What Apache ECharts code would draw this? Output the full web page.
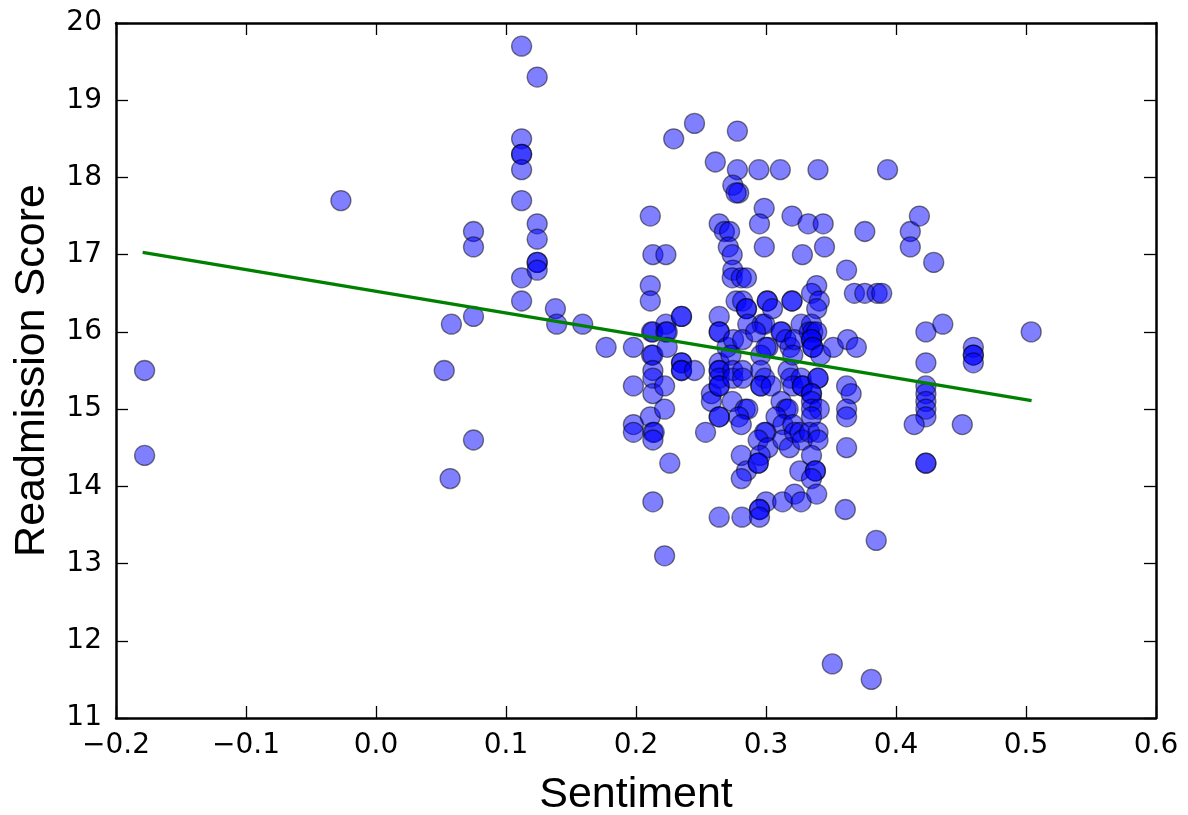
<!DOCTYPE html>
<html>
<head>
<meta charset="utf-8">
<script src="https://cdn.jsdelivr.net/npm/echarts@6/dist/echarts.min.js"></script>
<style>
html,body{margin:0;padding:0;background:#fff;}
#chart{width:1188px;height:815px;}
</style>
</head>
<body>
<div id="chart"></div>
<script>
// Sentiment vs Readmission Score points
const points = [
[-0.178,15.5],[-0.178,14.4],[-0.027,17.7],[0.0525,15.5],[0.058,16.1],[0.057,14.1],
[0.075,17.3],[0.075,17.1],[0.075,16.2],[0.075,14.6],
[0.112,19.7],[0.112,18.5],[0.112,18.3],[0.112,18.3],[0.112,18.1],[0.112,17.7],[0.112,16.7],[0.112,16.4],
[0.124,19.3],[0.124,17.4],[0.124,17.2],[0.124,16.9],[0.124,16.9],[0.124,16.8],
[0.138,16.3],[0.139,16.1],[0.159,16.1],[0.177,15.8],
[0.198,15.8],[0.198,15.3],[0.198,14.8],[0.198,14.7],
[0.211,17.5],[0.213,17.0],[0.211,16.6],[0.211,16.4],[0.212,16.0],[0.213,16.0],[0.212,15.7],[0.213,15.7],
[0.213,15.5],[0.213,15.4],[0.213,15.2],[0.211,14.9],[0.213,14.7],[0.214,14.7],[0.213,14.6],[0.213,13.8],
[0.223,17.0],[0.223,16.1],[0.223,16.0],[0.224,16.0],[0.224,15.8],[0.222,15.3],[0.222,15.0],[0.226,14.3],[0.222,13.1],
[0.229,18.5],
[0.235,16.2],[0.235,16.2],[0.235,15.6],[0.235,15.6],[0.235,15.5],[0.235,15.5],
[0.245,18.7],[0.245,15.5],
[0.258,15.2],[0.258,15.1],[0.2535,14.7],
[0.261,18.2],
[0.264,17.4],[0.264,16.2],[0.264,16.0],[0.264,16.0],[0.264,15.6],[0.264,15.5],[0.264,15.5],[0.264,15.4],
[0.264,15.3],[0.264,15.3],[0.264,14.9],[0.264,14.9],[0.264,13.6],
[0.268,17.3],[0.272,17.3],[0.271,17.1],[0.270,15.8],
[0.278,18.6],[0.278,18.1],[0.2745,17.9],[0.279,17.8],[0.277,17.8],[0.274,17.0],[0.2745,16.8],[0.274,16.7],
[0.277,16.4],[0.275,15.9],[0.273,15.7],[0.2745,15.5],[0.2745,15.4],[0.274,15.1],
[0.281,16.7],[0.285,16.7],[0.282,16.4],[0.285,16.3],[0.285,16.3],[0.286,16.1],[0.282,15.9],[0.282,15.5],
[0.282,15.4],[0.284,15.0],[0.286,15.0],[0.279,14.9],[0.281,14.8],[0.281,14.4],[0.285,14.2],[0.281,14.1],[0.2815,13.6],
[0.2945,18.1],[0.2986,17.6],[0.295,17.4],[0.2987,17.1],[0.301,16.4],[0.301,16.4],[0.297,16.1],[0.299,16.1],
[0.292,16.0],[0.3015,15.8],[0.296,15.7],[0.300,15.8],[0.296,15.5],[0.299,15.4],[0.296,15.3],[0.296,15.3],
[0.300,14.7],[0.299,14.7],[0.294,14.6],[0.3015,14.5],[0.2955,14.4],[0.294,14.3],[0.294,14.3],[0.300,13.8],
[0.295,13.7],[0.295,13.7],[0.295,13.6],
[0.311,18.1],[0.305,16.3],[0.312,16.0],[0.3115,16.0],[0.3154,15.9],[0.3185,15.8],[0.304,15.3],[0.317,15.5],
[0.319,15.4],[0.3116,15.1],[0.3154,15.0],[0.317,15.0],[0.3077,14.9],[0.313,14.8],[0.313,14.6],[0.318,14.5],[0.3128,13.8],
[0.320,17.5],[0.328,17.0],[0.320,16.4],[0.320,16.4],[0.327,16.1],[0.322,15.9],[0.3206,15.7],[0.327,15.4],
[0.3206,15.3],[0.328,15.3],[0.328,15.3],[0.3206,14.8],[0.322,14.7],[0.326,14.7],[0.328,14.6],[0.326,14.2],
[0.322,13.9],[0.327,13.8],
[0.340,18.1],[0.3324,17.4],[0.344,17.4],[0.345,17.1],[0.339,16.6],[0.335,16.5],[0.341,16.4],[0.339,16.3],
[0.335,16.1],[0.3333,16.0],[0.336,16.0],[0.339,16.0],[0.335,15.9],[0.335,15.9],[0.336,15.8],[0.336,15.8],
[0.342,15.7],[0.340,15.4],[0.340,15.4],[0.335,15.2],[0.335,15.2],[0.335,15.1],[0.335,15.0],[0.341,15.0],
[0.335,14.9],[0.3335,14.7],[0.340,14.7],[0.340,14.6],[0.335,14.4],[0.338,14.2],[0.338,14.2],[0.335,14.1],[0.339,13.9],
[0.3518,15.8],[0.351,11.7],[0.362,16.8],[0.368,16.5],[0.3628,15.9],[0.3695,15.8],[0.362,15.3],[0.3655,15.2],
[0.362,15.0],[0.362,14.9],[0.362,14.5],[0.361,13.7],[0.376,17.3],[0.376,16.5],[0.381,11.5],[0.3848,13.3],
[0.3855,16.5],[0.389,16.5],[0.3935,18.1],
[0.411,17.3],[0.411,17.1],[0.418,17.5],[0.429,16.9],[0.423,16.0],[0.436,16.1],[0.423,15.6],[0.423,15.3],
[0.423,15.2],[0.423,15.1],[0.423,15.0],[0.423,14.9],[0.423,14.3],[0.423,14.3],[0.414,14.8],[0.451,14.8],
[0.4595,15.8],[0.4595,15.7],[0.4595,15.7],[0.4595,15.6],[0.504,16.0]
];
// Fitted line endpoints
const fitLine = [[-0.1795,17.03],[0.5043,15.11]];
// Axis ranges / ticks
const xRange = {min:-0.2, max:0.6, interval:0.1};
const yRange = {min:11, max:20, interval:1};
const xTitle = 'Sentiment';
const yTitle = 'Readmission Score';

const chart = echarts.init(document.getElementById('chart'), null, {renderer:'canvas'});
const tickFont = {fontFamily:'DejaVu Sans', fontSize:28, color:'#000'};
const lineStyle = {color:'#000', width:2.5};
const tickStyle = {show:true, inside:true, length:12, lineStyle:{color:'#000', width:1.3}};
function fmtX(v){ if (Math.abs(v) < 1e-9) return '0.0'; return (v<0?'\u2212':'') + Math.abs(v).toFixed(1); }
chart.setOption({
  animation:false,
  backgroundColor:'#fff',
  grid:{left:116, right:32, top:23, bottom:97, containLabel:false, outerBoundsMode:'none'},
  xAxis:[
    {type:'value', position:'bottom', min:xRange.min, max:xRange.max, interval:xRange.interval,
     axisLine:{show:true, onZero:false, lineStyle:lineStyle}, axisTick:tickStyle,
     axisLabel:Object.assign({margin:14, formatter:fmtX}, tickFont), splitLine:{show:false},
     name:xTitle, nameLocation:'middle', nameGap:56,
     nameTextStyle:{fontFamily:'Liberation Sans', fontSize:43, color:'#000'}},
    {type:'value', position:'top', min:xRange.min, max:xRange.max, interval:xRange.interval,
     axisLine:{show:true, onZero:false, lineStyle:lineStyle}, axisTick:tickStyle,
     axisLabel:{show:false}, splitLine:{show:false}}
  ],
  yAxis:[
    {type:'value', position:'left', min:yRange.min, max:yRange.max, interval:yRange.interval,
     axisLine:{show:true, onZero:false, lineStyle:lineStyle}, axisTick:tickStyle,
     axisLabel:Object.assign({margin:14}, tickFont), splitLine:{show:false},
     name:yTitle, nameLocation:'middle', nameGap:62, nameRotate:90,
     nameTextStyle:{fontFamily:'Liberation Sans', fontSize:43, color:'#000'}},
    {type:'value', position:'right', min:yRange.min, max:yRange.max, interval:yRange.interval,
     axisLine:{show:true, onZero:false, lineStyle:lineStyle}, axisTick:tickStyle,
     axisLabel:{show:false}, splitLine:{show:false}}
  ],
  series:[
    {type:'scatter', xAxisIndex:0, yAxisIndex:0, data:points, symbol:'circle', symbolSize:20,
     itemStyle:{color:'rgba(0,0,255,0.5)', borderColor:'rgba(0,0,0,0.5)', borderWidth:1.3, opacity:1},
     emphasis:{disabled:true}, z:2},
    {type:'line', xAxisIndex:0, yAxisIndex:0, data:fitLine, symbol:'none',
     lineStyle:{color:'#008000', width:3.2}, z:3}
  ]
});
</script>
</body>
</html>
